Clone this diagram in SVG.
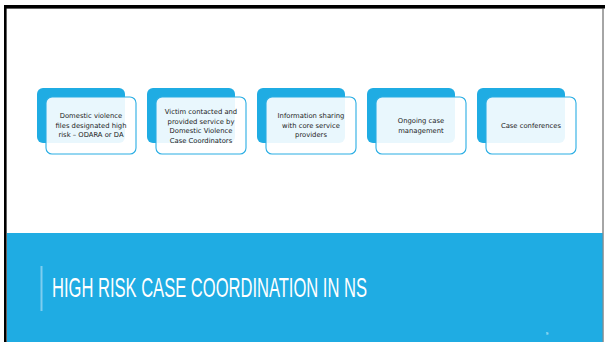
<svg xmlns="http://www.w3.org/2000/svg" width="605" height="342" viewBox="0 0 605 342">
<style>
.back{fill:#1FACE3;}
.front{fill:#ffffff;fill-opacity:0.9;stroke:#2AAEE4;stroke-width:1.1;}
.lbl{font-family:"DejaVu Sans","Liberation Sans",sans-serif;font-size:6.8px;fill:#222;text-anchor:middle;}
.title{font-family:"Liberation Sans Narrow","Liberation Sans",sans-serif;font-size:28px;fill:#fff;}
</style>
<rect x="0" y="0" width="605" height="342" fill="#fff"/>
<rect x="6" y="8" width="597" height="334" fill="#fff" stroke="#888" stroke-width="1"/>
<rect x="4" y="5" width="601" height="3.5" fill="#000"/>
<rect x="4" y="5" width="2.5" height="337" fill="#000"/>
<rect x="7" y="233" width="596" height="109" fill="#1FACE3"/>
<line x1="603" y1="9" x2="603" y2="342" stroke="#888" stroke-width="1"/>
<rect x="40.5" y="266" width="2" height="45" fill="#7FCDEF"/>
<text class="title" x="52" y="297" textLength="315" lengthAdjust="spacingAndGlyphs">HIGH RISK CASE COORDINATION IN NS</text>
<text x="546" y="335" font-family="Liberation Sans,sans-serif" font-size="4" fill="#fff">9</text>
<g id="node1">
<rect class="back" x="37" y="88" width="88" height="55" rx="6"/>
<rect class="front" x="46" y="97" width="90" height="57" rx="6"/>
<text class="lbl"><tspan x="91" y="118">Domestic violence</tspan><tspan x="91" y="127.5">files designated high</tspan><tspan x="91" y="137">risk – ODARA or DA</tspan></text>
</g>
<g id="node2">
<rect class="back" x="147" y="88" width="88" height="55" rx="6"/>
<rect class="front" x="156" y="97" width="90" height="57" rx="6"/>
<text class="lbl"><tspan x="201" y="114">Victim contacted and</tspan><tspan x="201" y="123.5">provided service by</tspan><tspan x="201" y="133">Domestic Violence</tspan><tspan x="201" y="142.5">Case Coordinators</tspan></text>
</g>
<g id="node3">
<rect class="back" x="257" y="88" width="88" height="55" rx="6"/>
<rect class="front" x="266" y="97" width="90" height="57" rx="6"/>
<text class="lbl"><tspan x="311" y="118">Information sharing</tspan><tspan x="311" y="127.5">with core service</tspan><tspan x="311" y="137">providers</tspan></text>
</g>
<g id="node4">
<rect class="back" x="367" y="88" width="88" height="55" rx="6"/>
<rect class="front" x="376" y="97" width="90" height="57" rx="6"/>
<text class="lbl"><tspan x="421" y="123">Ongoing case</tspan><tspan x="421" y="132.5">management</tspan></text>
</g>
<g id="node5">
<rect class="back" x="477" y="88" width="88" height="55" rx="6"/>
<rect class="front" x="486" y="97" width="90" height="57" rx="6"/>
<text class="lbl"><tspan x="531" y="128">Case conferences</tspan></text>
</g>
<g id="connectors"></g>
</svg>
